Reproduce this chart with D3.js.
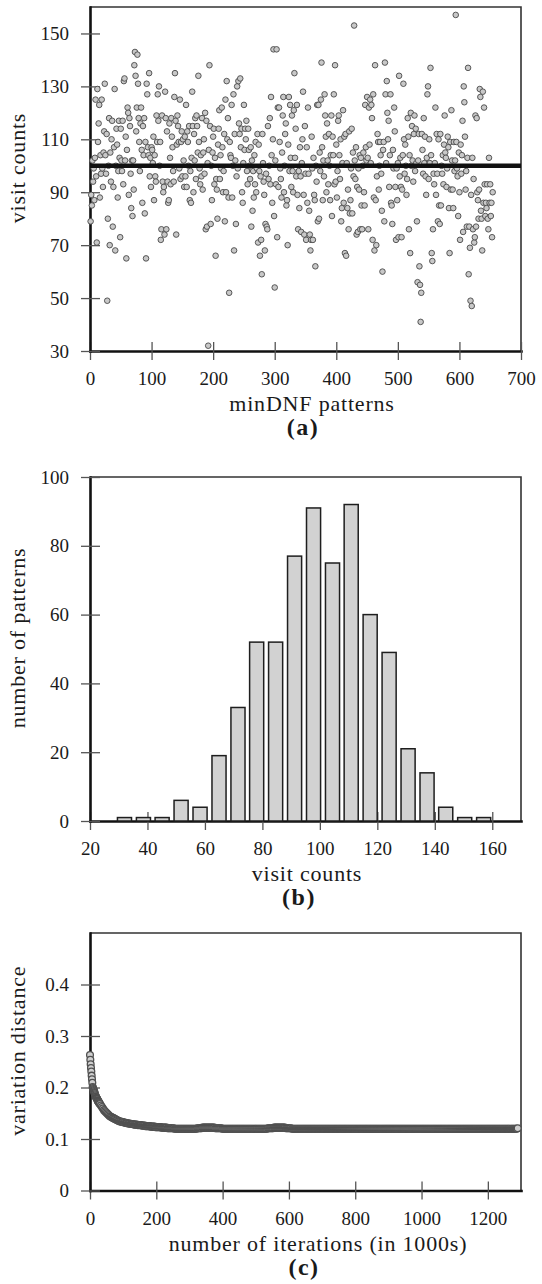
<!DOCTYPE html>
<html>
<head>
<meta charset="utf-8">
<script src="https://cdn.jsdelivr.net/npm/d3@7"></script>
<style>
body { margin: 0; background: #fff; }
text { font-family: "Liberation Serif", "Times New Roman", serif; fill: #1a1a1a; }
</style>
</head>
<body>
<div id="graph"></div>
<script>
// (a) visit count of every minDNF pattern, in pattern order
var visitCounts = [
    79, 89, 85, 102, 94, 99, 87, 103, 125, 96,
    71, 129, 109, 116, 123, 88, 104, 97, 125, 99,
    92, 105, 113, 131, 104, 97, 112, 49, 80, 100,
    118, 70, 105, 94, 110, 117, 77, 92, 107, 129,
    68, 100, 114, 108, 88, 98, 117, 103, 73, 114,
    102, 98, 117, 93, 132, 133, 102, 111, 65, 106,
    122, 120, 89, 118, 115, 97, 84, 102, 81, 102,
    91, 138, 143, 134, 113, 122, 142, 131, 118, 109,
    98, 116, 122, 106, 86, 115, 104, 118, 82, 109,
    65, 131, 127, 107, 104, 135, 96, 103, 92, 107,
    106, 101, 111, 87, 104, 96, 94, 119, 109, 127,
    117, 130, 100, 109, 72, 76, 119, 94, 90, 92,
    74, 128, 118, 76, 113, 94, 86, 87, 116, 103,
    93, 118, 111, 107, 98, 94, 126, 135, 117, 74,
    108, 119, 115, 109, 99, 125, 95, 109, 113, 96,
    110, 102, 92, 111, 96, 123, 92, 113, 109, 100,
    115, 87, 98, 86, 103, 128, 115, 90, 112, 102,
    118, 95, 119, 115, 105, 134, 109, 99, 93, 104,
    96, 118, 91, 105, 110, 97, 120, 76, 117, 77,
    101, 32, 106, 138, 115, 78, 100, 87, 105, 111,
    114, 93, 103, 66, 95, 91, 80, 108, 114, 121,
    95, 104, 99, 122, 107, 90, 98, 112, 79, 125,
    90, 132, 110, 118, 88, 52, 109, 104, 103, 123,
    88, 100, 127, 68, 112, 102, 78, 96, 130, 99,
    132, 116, 112, 133, 107, 114, 90, 86, 101, 123,
    106, 114, 110, 117, 98, 93, 114, 106, 100, 95,
    107, 77, 102, 83, 98, 88, 104, 93, 109, 90,
    99, 112, 71, 108, 98, 66, 96, 72, 59, 112,
    101, 94, 89, 68, 78, 97, 77, 76, 115, 95,
    100, 118, 93, 126, 104, 86, 110, 144, 81, 54,
    102, 93, 144, 73, 122, 92, 122, 109, 99, 95,
    88, 105, 119, 126, 90, 100, 112, 116, 85, 87,
    70, 108, 126, 98, 123, 103, 92, 119, 98, 90,
    121, 135, 103, 114, 96, 123, 89, 76, 98, 84,
    107, 96, 75, 101, 110, 128, 89, 74, 115, 97,
    72, 107, 86, 122, 97, 83, 74, 68, 72, 111,
    99, 72, 103, 89, 87, 62, 100, 94, 123, 79,
    123, 80, 105, 98, 125, 139, 107, 87, 102, 96,
    127, 119, 111, 90, 116, 102, 93, 112, 100, 87,
    104, 119, 81, 111, 104, 127, 93, 138, 94, 108,
    88, 98, 117, 119, 104, 95, 110, 79, 84, 101,
    121, 86, 111, 67, 112, 66, 101, 84, 91, 76,
    113, 82, 87, 99, 114, 82, 105, 96, 153, 102,
    95, 107, 74, 92, 75, 99, 91, 104, 76, 103,
    85, 76, 100, 105, 90, 85, 123, 107, 102, 126,
    103, 76, 122, 108, 125, 101, 123, 118, 72, 127,
    88, 68, 138, 87, 70, 96, 112, 109, 91, 100,
    109, 104, 97, 83, 60, 106, 109, 79, 139, 127,
    101, 132, 120, 110, 117, 92, 104, 127, 86, 85,
    78, 106, 99, 122, 113, 92, 72, 99, 87, 101,
    73, 134, 96, 103, 92, 73, 91, 104, 131, 110,
    97, 108, 100, 89, 95, 118, 111, 76, 104, 67,
    120, 100, 115, 102, 94, 112, 119, 98, 114, 101,
    79, 56, 102, 112, 62, 55, 41, 52, 112, 106,
    97, 118, 101, 111, 96, 89, 103, 127, 130, 95,
    110, 101, 137, 104, 67, 64, 76, 97, 93, 101,
    122, 89, 112, 97, 79, 110, 85, 78, 112, 85,
    100, 97, 104, 93, 108, 119, 105, 103, 92, 99,
    111, 107, 84, 67, 109, 91, 121, 102, 91, 84,
    109, 98, 102, 157, 109, 99, 96, 81, 105, 90,
    72, 108, 97, 104, 117, 75, 130, 124, 111, 91,
    98, 77, 103, 137, 59, 77, 69, 49, 89, 47,
    103, 76, 95, 71, 73, 119, 77, 118, 90, 87,
    80, 91, 129, 126, 83, 80, 68, 128, 86, 122,
    93, 81, 86, 84, 93, 80, 76, 103, 86, 93,
    81, 86, 73, 90
];
var meanVisits = 100;

// (b) histogram of the visit counts
var binCenters = [32.0, 38.6, 45.1, 51.7, 58.3, 64.9, 71.5, 78.0, 84.6, 91.2,
    97.8, 104.4, 110.9, 117.5, 124.1, 130.7, 137.3, 143.8, 150.4, 157.0];
var binCounts = [1, 1, 1, 6, 4, 19, 33, 52, 52, 77,
    91, 75, 92, 60, 49, 21, 14, 4, 1, 1];
var binWidth = 4.9;

// (c) variation distance, iterations 0..29 (every 1000)
var distEarly = [0.263, 0.254, 0.245, 0.238, 0.231, 0.223, 0.216, 0.209, 0.201, 0.199,
    0.197, 0.195, 0.193, 0.191, 0.189, 0.187, 0.185, 0.183, 0.182, 0.180,
    0.179, 0.178, 0.177, 0.175, 0.174, 0.173, 0.172, 0.171, 0.170, 0.169];
// iterations 30..1290 (every 3000), 20 samples per line after the first
var distLate = [
    0.168, 0.165, 0.162, 0.159, 0.156, 0.154, 0.152, 0.150, 0.148, 0.146, 0.144, 0.143, 0.142, 0.141, 0.140, 0.139, 0.138, 0.137, 0.136, 0.135, 0.134,
    0.134, 0.133, 0.133, 0.132, 0.132, 0.131, 0.131, 0.130, 0.130, 0.130, 0.129, 0.129, 0.129, 0.128, 0.128, 0.128, 0.128, 0.127, 0.127, 0.127,
    0.127, 0.126, 0.126, 0.126, 0.126, 0.125, 0.125, 0.125, 0.125, 0.125, 0.124, 0.124, 0.124, 0.124, 0.124, 0.123, 0.123, 0.123, 0.123, 0.123,
    0.123, 0.122, 0.122, 0.122, 0.122, 0.122, 0.122, 0.121, 0.121, 0.121, 0.121, 0.121, 0.121, 0.121, 0.120, 0.120, 0.120, 0.120, 0.120, 0.120,
    0.120, 0.120, 0.120, 0.120, 0.120, 0.120, 0.120, 0.120, 0.120, 0.120, 0.120, 0.120, 0.120, 0.120, 0.120, 0.120, 0.120, 0.121, 0.121, 0.121,
    0.121, 0.121, 0.122, 0.122, 0.122, 0.122, 0.122, 0.122, 0.122, 0.122, 0.122, 0.122, 0.122, 0.122, 0.122, 0.121, 0.121, 0.121, 0.121, 0.121,
    0.121, 0.121, 0.120, 0.120, 0.120, 0.120, 0.120, 0.120, 0.120, 0.120, 0.120, 0.120, 0.120, 0.120, 0.120, 0.120, 0.120, 0.120, 0.120, 0.120,
    0.120, 0.120, 0.120, 0.120, 0.120, 0.120, 0.120, 0.120, 0.120, 0.120, 0.120, 0.120, 0.120, 0.120, 0.120, 0.120, 0.120, 0.120, 0.120, 0.120,
    0.120, 0.120, 0.120, 0.120, 0.120, 0.120, 0.120, 0.120, 0.121, 0.121, 0.121, 0.121, 0.121, 0.121, 0.122, 0.122, 0.122, 0.122, 0.122, 0.122,
    0.122, 0.122, 0.122, 0.122, 0.122, 0.122, 0.121, 0.121, 0.121, 0.121, 0.121, 0.121, 0.120, 0.120, 0.120, 0.120, 0.120, 0.120, 0.120, 0.120,
    0.120, 0.120, 0.120, 0.120, 0.120, 0.120, 0.120, 0.120, 0.120, 0.120, 0.120, 0.120, 0.120, 0.120, 0.120, 0.120, 0.120, 0.120, 0.120, 0.120,
    0.120, 0.120, 0.120, 0.120, 0.120, 0.120, 0.120, 0.120, 0.120, 0.120, 0.120, 0.120, 0.120, 0.120, 0.120, 0.120, 0.120, 0.120, 0.120, 0.120,
    0.120, 0.120, 0.120, 0.120, 0.120, 0.120, 0.120, 0.120, 0.120, 0.120, 0.120, 0.120, 0.120, 0.120, 0.120, 0.120, 0.120, 0.120, 0.120, 0.120,
    0.120, 0.120, 0.120, 0.120, 0.120, 0.120, 0.120, 0.120, 0.120, 0.120, 0.120, 0.120, 0.120, 0.120, 0.120, 0.120, 0.120, 0.120, 0.120, 0.120,
    0.120, 0.120, 0.120, 0.120, 0.120, 0.120, 0.120, 0.120, 0.120, 0.120, 0.120, 0.120, 0.120, 0.120, 0.120, 0.120, 0.120, 0.120, 0.120, 0.120,
    0.120, 0.120, 0.120, 0.120, 0.120, 0.120, 0.120, 0.120, 0.120, 0.120, 0.120, 0.120, 0.120, 0.120, 0.120, 0.120, 0.120, 0.120, 0.120, 0.120,
    0.120, 0.120, 0.120, 0.120, 0.120, 0.120, 0.120, 0.120, 0.120, 0.120, 0.120, 0.120, 0.120, 0.120, 0.120, 0.120, 0.120, 0.120, 0.120, 0.120,
    0.120, 0.120, 0.120, 0.120, 0.120, 0.120, 0.120, 0.120, 0.120, 0.120, 0.120, 0.120, 0.120, 0.120, 0.120, 0.120, 0.120, 0.120, 0.120, 0.120,
    0.120, 0.120, 0.120, 0.120, 0.120, 0.120, 0.120, 0.120, 0.120, 0.120, 0.120, 0.120, 0.120, 0.120, 0.120, 0.120, 0.120, 0.120, 0.120, 0.120,
    0.120, 0.120, 0.120, 0.120, 0.120, 0.120, 0.120, 0.120, 0.120, 0.120, 0.120, 0.120, 0.120, 0.120, 0.120, 0.120, 0.120, 0.120, 0.120, 0.120,
    0.120, 0.120, 0.120, 0.120, 0.120, 0.120, 0.120, 0.120, 0.120, 0.120, 0.120, 0.120, 0.120, 0.120, 0.120, 0.120, 0.120, 0.120, 0.120, 0.121
];
var lateStart = 30, lateStep = 3;

// tick labels
var xTicksA = [0, 100, 200, 300, 400, 500, 600, 700];
var yTicksA = [30, 50, 70, 90, 110, 130, 150];
var xTicksB = [20, 40, 60, 80, 100, 120, 140, 160];
var yTicksB = [0, 20, 40, 60, 80, 100];
var xTicksC = [0, 200, 400, 600, 800, 1000, 1200];
var yTicksC = [0, 0.1, 0.2, 0.3, 0.4];

var plotLeft = 90, plotRight = 521;

var svg = d3.select("#graph")
    .append("svg")
    .attr("width", 542)
    .attr("height", 1284);

var xa = d3.scaleLinear().domain([0, 700]).range([plotLeft, plotRight]);
var ya = d3.scaleLinear().domain([30, 160]).range([351, 7]);
var xb = d3.scaleLinear().domain([20, 170]).range([plotLeft, plotRight]);
var yb = d3.scaleLinear().domain([0, 100]).range([821, 477]);
var xc = d3.scaleLinear().domain([0, 1300]).range([plotLeft, plotRight]);
var yc = d3.scaleLinear().domain([0, 0.5]).range([1190.5, 933]);

function drawFrame(x, y, xTicks, yTicks, xTitle, yTitle, tag, titleX, tagX) {
    var x0 = x.range()[0], x1 = x.range()[1],
        y0 = y.range()[0], y1 = y.range()[1];

    // thin top / right border
    svg.append("path")
        .attr("d", "M" + x0 + "," + y1 + "H" + x1 + "V" + y0)
        .attr("fill", "none")
        .attr("stroke", "#333")
        .attr("stroke-width", 1.6);

    var gx = svg.append("g")
        .attr("transform", "translate(0," + y0 + ")")
        .call(d3.axisBottom(x).tickValues(xTicks).tickFormat(String)
            .tickSize(9).tickSizeOuter(0).tickPadding(12));
    var gy = svg.append("g")
        .attr("transform", "translate(" + x0 + ",0)")
        .call(d3.axisLeft(y).tickValues(yTicks).tickFormat(String)
            .tickSize(9).tickSizeOuter(0).tickPadding(12));

    // ticks cross the axis line
    gx.selectAll(".tick line").attr("y1", -9);
    gy.selectAll(".tick line").attr("x1", 10);

    [gx, gy].forEach(function (g) {
        g.attr("font-family", null).attr("font-size", 19);
        g.selectAll(".tick line").attr("stroke", "#555").attr("stroke-width", 1.3);
        g.selectAll(".tick text").attr("fill", "#1a1a1a");
        g.select(".domain")
            .attr("stroke", "#111")
            .attr("stroke-width", 2.6)
            .attr("stroke-linecap", "square");
    });

    svg.append("text")
        .attr("x", titleX)
        .attr("y", y0 + 60)
        .attr("text-anchor", "middle")
        .attr("font-size", 22)
        .attr("letter-spacing", 0.8)
        .text(xTitle);

    svg.append("text")
        .attr("transform", "translate(25," + ((y0 + y1) / 2 - 11) + ") rotate(-90)")
        .attr("text-anchor", "middle")
        .attr("font-size", 22)
        .attr("letter-spacing", 0.8)
        .text(yTitle);

    svg.append("text")
        .attr("x", tagX)
        .attr("y", y0 + 84)
        .attr("text-anchor", "middle")
        .attr("font-size", 24)
        .attr("font-weight", "bold")
        .attr("letter-spacing", 1.5)
        .text(tag);
}

// ---- (a) scatter ----
drawFrame(xa, ya, xTicksA, yTicksA, "minDNF patterns", "visit counts", "(a)", 312, 303);

svg.append("g")
    .selectAll("circle")
    .data(visitCounts)
    .enter()
    .append("circle")
    .attr("cx", function (d, i) {
        return xa(i + 1);
    })
    .attr("cy", function (d) {
        return ya(d);
    })
    .attr("r", 2.8)
    .attr("fill", "#c8c8c8")
    .attr("stroke", "#484848")
    .attr("stroke-width", 0.9);

svg.append("line")
    .attr("x1", xa(0))
    .attr("x2", xa(700))
    .attr("y1", ya(meanVisits))
    .attr("y2", ya(meanVisits))
    .attr("stroke", "#111")
    .attr("stroke-width", 4.3);

// ---- (b) histogram ----
drawFrame(xb, yb, xTicksB, yTicksB, "visit counts", "number of patterns", "(b)", 307, 299);

svg.append("g")
    .selectAll("rect")
    .data(binCenters)
    .enter()
    .append("rect")
    .attr("x", function (d) {
        return xb(d - binWidth / 2);
    })
    .attr("width", function (d) {
        return xb(d + binWidth / 2) - xb(d - binWidth / 2);
    })
    .attr("y", function (d, i) {
        return yb(binCounts[i]);
    })
    .attr("height", function (d, i) {
        return yb(0) - yb(binCounts[i]);
    })
    .attr("fill", "#d2d2d2")
    .attr("stroke", "#1e1e1e")
    .attr("stroke-width", 1.5);

// ---- (c) variation distance ----
drawFrame(xc, yc, xTicksC, yTicksC, "number of iterations (in 1000s)", "variation distance", "(c)", 318, 304);

var distPoints = distEarly.map(function (v, i) {
    return { it: i, v: v };
}).concat(distLate.map(function (v, k) {
    return { it: lateStart + k * lateStep, v: v };
}));

svg.append("g")
    .selectAll("circle")
    .data(distPoints)
    .enter()
    .append("circle")
    .attr("cx", function (d) {
        return xc(d.it);
    })
    .attr("cy", function (d) {
        return yc(d.v);
    })
    .attr("r", 3.4)
    .attr("fill", "#cfcfcf")
    .attr("stroke", "#505050")
    .attr("stroke-width", 1.3);
</script>
</body>
</html>
